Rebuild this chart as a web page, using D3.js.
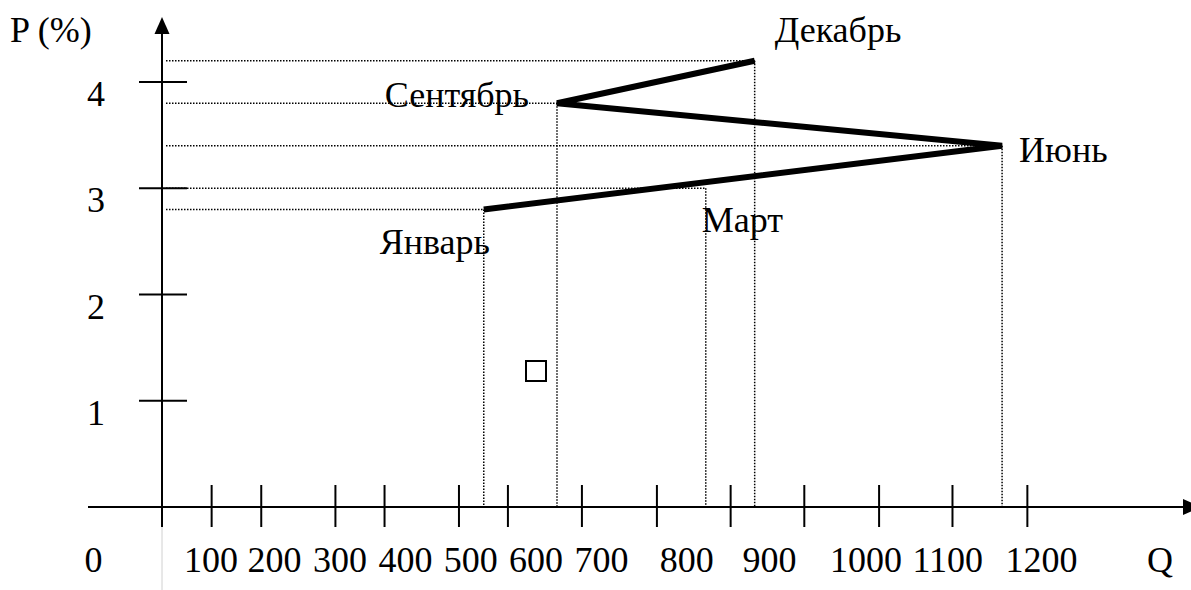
<!doctype html>
<html>
  <head>
    <meta charset="utf-8">
    <script src="https://cdnjs.cloudflare.com/ajax/libs/d3/7.8.5/d3.min.js"></script>
    <style>
      body { margin: 0; background: #fff; }
      text { font-family: "Liberation Serif", "Times New Roman", serif; font-size: 36px; fill: #000; }
    </style>
  </head>
  <body>
    <svg width="1191" height="590"></svg>
    <script>
        // values
        var months = ["Январь", "Март", "Июнь", "Сентябрь", "Декабрь"];
        var qValues = [520, 823, 1158, 632, 882];
        var pValues = [2.8, 3.0, 3.4, 3.8, 4.2];
        // the thick line skips March
        var lineOrder = ["Январь", "Июнь", "Сентябрь", "Декабрь"];

        var xTickLabels = [0, 100, 200, 300, 400, 500, 600, 700, 800, 900, 1000, 1100, 1200];
        var xTickMarks = [101, 179, 293, 368, 482, 557, 670, 765, 853, 936, 1016, 1105, 1185];
        var yTickLabels = [1, 2, 3, 4];

        // the small empty square under the curve
        var boxQ = [600];
        var boxP = [1.28];

        var data = months.map((m, i) => ({month: m, q: qValues[i], p: pValues[i]}));

        // the hand drawn axis is not even, so the scale follows the label row
        var xScale = d3.scaleLinear()
            .domain(xTickLabels)
            .range([93.5, 211, 274.6, 340, 405.5, 470.7, 536, 601.6, 686.7, 769.6, 866, 947.8, 1041.4]);
        var yScale = d3.scaleLinear().domain([0, 4]).range([507, 82]);

        var originX = 162;
        var y0 = yScale(0);

        var svg = d3.select("svg");

        // grey guide under the y axis
        svg.append("line")
            .attr("x1", originX).attr("x2", originX)
            .attr("y1", y0 + 20).attr("y2", 590)
            .attr("stroke", "#d0d0d0").attr("stroke-width", 1);

        // dotted guides
        var guides = svg.append("g")
            .attr("stroke", "#000")
            .attr("stroke-width", 1.5)
            .attr("stroke-dasharray", "1.5 1.5");

        guides.selectAll(".h")
            .data(data)
            .enter()
            .append("line")
            .attr("x1", originX + 4)
            .attr("x2", d => xScale(d.q))
            .attr("y1", d => yScale(d.p))
            .attr("y2", d => yScale(d.p));

        guides.selectAll(".v")
            .data(data)
            .enter()
            .append("line")
            .attr("x1", d => xScale(d.q))
            .attr("x2", d => xScale(d.q))
            .attr("y1", d => yScale(d.p))
            .attr("y2", y0);

        // axes
        svg.append("line")
            .attr("x1", 88).attr("x2", 1185)
            .attr("y1", y0).attr("y2", y0)
            .attr("stroke", "#000").attr("stroke-width", 2);
        svg.append("path")
            .attr("d", "M1201," + y0 + "L1183," + (y0 - 8) + "L1183," + (y0 + 8) + "Z")
            .attr("fill", "#000");

        svg.append("line")
            .attr("x1", originX).attr("x2", originX)
            .attr("y1", y0 + 20).attr("y2", 32)
            .attr("stroke", "#000").attr("stroke-width", 2);
        svg.append("path")
            .attr("d", "M" + originX + ",17L" + (originX - 7.5) + ",34L" + (originX + 7.5) + ",34Z")
            .attr("fill", "#000");

        svg.append("g")
            .selectAll("line")
            .data(xTickMarks)
            .enter()
            .append("line")
            .attr("x1", d => xScale(d))
            .attr("x2", d => xScale(d))
            .attr("y1", y0 - 22)
            .attr("y2", y0 + 20)
            .attr("stroke", "#000")
            .attr("stroke-width", 2);

        svg.append("g")
            .selectAll("line")
            .data(yTickLabels)
            .enter()
            .append("line")
            .attr("x1", originX - 23)
            .attr("x2", originX + 25)
            .attr("y1", d => yScale(d))
            .attr("y2", d => yScale(d))
            .attr("stroke", "#000")
            .attr("stroke-width", 2);

        svg.append("g")
            .selectAll("text")
            .data(xTickLabels)
            .enter()
            .append("text")
            .attr("x", d => xScale(d))
            .attr("y", 572)
            .attr("text-anchor", "middle")
            .text(d => d);

        svg.append("g")
            .selectAll("text")
            .data(yTickLabels)
            .enter()
            .append("text")
            .attr("x", 96)
            .attr("y", d => yScale(d) + 24)
            .attr("text-anchor", "middle")
            .text(d => d);

        svg.append("text").attr("x", 10).attr("y", 42).text("P (%)");
        svg.append("text").attr("x", 1160).attr("y", 572).attr("text-anchor", "middle").text("Q");

        // the curve
        var byMonth = {};
        data.forEach(d => byMonth[d.month] = d);

        var line = d3.line()
            .x(d => xScale(d.q))
            .y(d => yScale(d.p));

        svg.append("path")
            .datum(lineOrder.map(m => byMonth[m]))
            .attr("d", line)
            .attr("fill", "none")
            .attr("stroke", "#000")
            .attr("stroke-width", 6);

        // month labels
        var labelPos = {
            "Январь":   {dx: -104, dy: 44, anchor: "start"},
            "Март":     {dx: -4,   dy: 44, anchor: "start"},
            "Июнь":     {dx: 17,   dy: 16, anchor: "start"},
            "Сентябрь": {dx: -28,  dy: 4,  anchor: "end"},
            "Декабрь":  {dx: 20,   dy: -19, anchor: "start"}
        };

        svg.append("g")
            .selectAll("text")
            .data(data)
            .enter()
            .append("text")
            .attr("x", d => xScale(d.q) + labelPos[d.month].dx)
            .attr("y", d => yScale(d.p) + labelPos[d.month].dy)
            .attr("text-anchor", d => labelPos[d.month].anchor)
            .text(d => d.month);

        svg.selectAll(".box")
            .data(boxQ.map((q, i) => ({q: q, p: boxP[i]})))
            .enter()
            .append("rect")
            .attr("x", d => xScale(d.q) - 10)
            .attr("y", d => yScale(d.p) - 10)
            .attr("width", 20)
            .attr("height", 20)
            .attr("fill", "none")
            .attr("stroke", "#000")
            .attr("stroke-width", 2);
    </script>
  </body>
</html>
